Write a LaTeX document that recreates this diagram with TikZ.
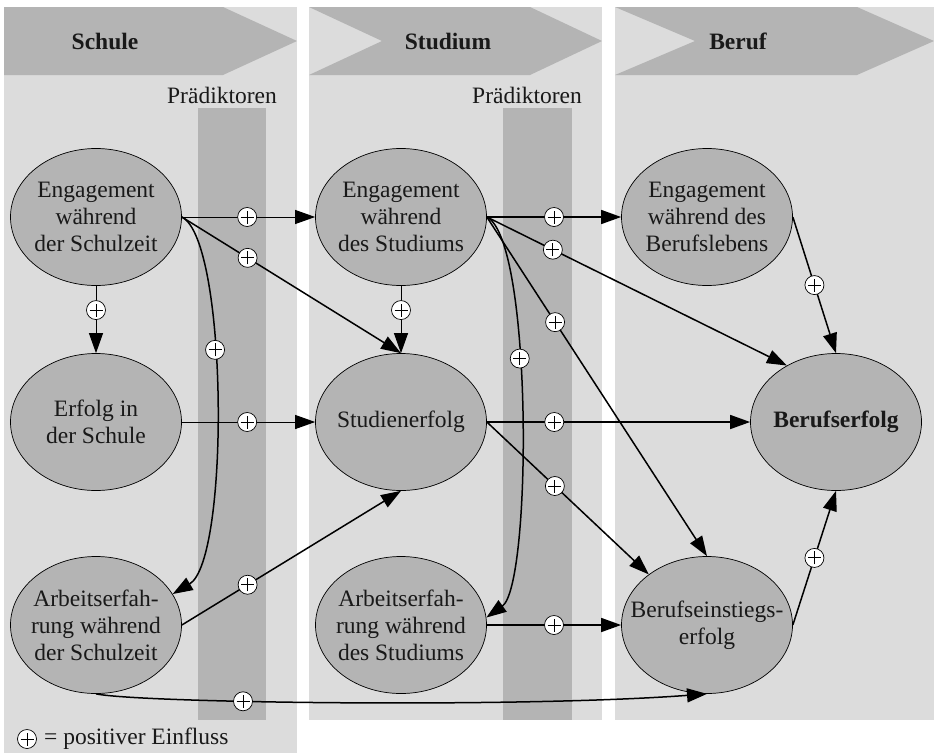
\documentclass[tikz,border=0pt]{standalone}
\usepackage{fontspec}
\setmainfont{Liberation Serif}
\usetikzlibrary{arrows.meta,shapes.geometric}
\definecolor{bglight}{RGB}{220,220,220}
\definecolor{bgdark}{RGB}{180,180,180}
\begin{document}
\begin{tikzpicture}[x=1pt,y=-1pt,
  txt/.style={font=\fontsize{23.5}{27}\selectfont, align=center, inner sep=0pt, text=black!90},
  ell/.style={ellipse, draw=black, line width=0.7pt, fill=bgdark, minimum width=171pt, minimum height=137pt, inner sep=0pt},
  conn/.style={line width=1.5pt, -{Triangle[length=20pt,width=14pt]}},
  thinconn/.style={conn, line width=1pt},
  pluscirc/.style={circle, draw=black, line width=0.7pt, fill=white, minimum size=19pt, inner sep=0pt,
    path picture={\draw[-, line width=1pt]
      ([xshift=-6.5pt]path picture bounding box.center) -- ([xshift=6.5pt]path picture bounding box.center)
      ([yshift=-6.5pt]path picture bounding box.center) -- ([yshift=6.5pt]path picture bounding box.center);}},
  hdr/.style={fill=bgdark, draw=none},
]
\useasboundingbox (0,0) rectangle (934,753);
% column backgrounds
\fill[bglight] (4,7) rectangle (297,753);
\fill[bglight] (309,7) rectangle (602,720);
\fill[bglight] (615,7) rectangle (934,720);
% header chevrons
\path[hdr] (4,7) -- (223,7) -- (297,41) -- (223,75) -- (4,75) -- cycle;
\path[hdr] (309,7) -- (530,7) -- (602,41) -- (530,75) -- (309,75) -- (382,41) -- cycle;
\path[hdr] (615,7) -- (857,7) -- (934,41) -- (857,75) -- (615,75) -- (695,41) -- cycle;
\node[txt, font=\fontsize{23.5}{27}\selectfont\bfseries] (h1) at (105,41) {Schule};
\node[txt, font=\fontsize{23.5}{27}\selectfont\bfseries] (h2) at (448,41) {Studium};
\node[txt, font=\fontsize{23.5}{27}\selectfont\bfseries] (h3) at (738,41) {Beruf};
% predictor strips
\fill[bgdark] (198,108) rectangle (266,720);
\fill[bgdark] (503,108) rectangle (572,720);
\node[txt] (pr1) at (222,95) {Prädiktoren};
\node[txt] (pr2) at (527,95) {Prädiktoren};
% ellipses
\node[ell] (E1) at (96,217) {};
\node[ell] (E2) at (96,422) {};
\node[ell] (E3) at (96,625) {};
\node[ell] (S1) at (401,217) {};
\node[ell] (S2) at (401,422) {};
\node[ell] (S3) at (401,625) {};
\node[ell] (B1) at (707,217) {};
\node[ell] (B2) at (836,422) {};
\node[ell] (B3) at (707,625) {};
\node[txt] (E1t) at (E1) {Engagement\\während\\der Schulzeit};
\node[txt] (E2t) at (E2) {Erfolg in\\der Schule};
\node[txt] (E3t) at (E3) {Arbeitserfah-\\rung während\\der Schulzeit};
\node[txt] (S1t) at (S1) {Engagement\\während\\des Studiums};
\node[txt] (S2t) at (S2) {Studienerfolg};
\node[txt] (S3t) at (S3) {Arbeitserfah-\\rung während\\des Studiums};
\node[txt] (B1t) at (B1) {Engagement\\während des\\Berufslebens};
\node[txt, font=\fontsize{23.5}{27}\selectfont\bfseries] (B2t) at (B2) {Berufserfolg};
\node[txt] (B3t) at (B3) {Berufseinstiegs-\\erfolg};
% connectors
\draw[thinconn] (E1) -- node[pluscirc,pos=0.49] (p1) {} (S1);
\draw[conn] (E1.east) -- node[pluscirc,pos=0.3] (p2) {} (S2.north);
\draw[thinconn] (E1) -- node[pluscirc,pos=0.36] (p3) {} (E2);
\draw[conn] (E1.east) .. controls (228,240) and (230,560) .. node[pluscirc,pos=0.4] (p4) {} (E3.22);
\draw[thinconn] (E2) -- node[pluscirc,pos=0.49] (p5) {} (S2);
\draw[conn] (E3.east) -- node[pluscirc,pos=0.3] (p6) {} (S2.south);
\draw[conn] (E3.south) .. controls (140,703) and (520,708) .. node[pluscirc,pos=0.35] (p7) {} (B3.south);
\draw[conn] (S1) -- node[pluscirc,pos=0.5] (p8) {} (B1);
\draw[conn] (S1.east) -- node[pluscirc,pos=0.22] (p9) {} (B2.131);
\draw[thinconn] (S1) -- node[pluscirc,pos=0.36] (p10) {} (S2);
\draw[conn] (S1.east) -- node[pluscirc,pos=0.31] (p11) {} (B3.north);
\draw[conn] (S1.east) .. controls (533,240) and (532,585) .. node[pluscirc,pos=0.4] (p12) {} (S3.5);
\draw[conn] (S2) -- node[pluscirc,pos=0.256] (p13) {} (B2);
\draw[conn] (S2.east) -- node[pluscirc,pos=0.42] (p14) {} (B3.139);
\draw[conn] (S3) -- node[pluscirc,pos=0.5] (p15) {} (B3);
\draw[conn] (B1.east) -- node[pluscirc,pos=0.5] (p16) {} (B2.north);
\draw[conn] (B3.east) -- node[pluscirc,pos=0.5] (p17) {} (B2.south);
% legend
\node[pluscirc] (lg) at (27,739) {};
\node[txt, anchor=west] (lgt) at (44,739) {= positiver Einfluss};
\end{tikzpicture}
\end{document}
